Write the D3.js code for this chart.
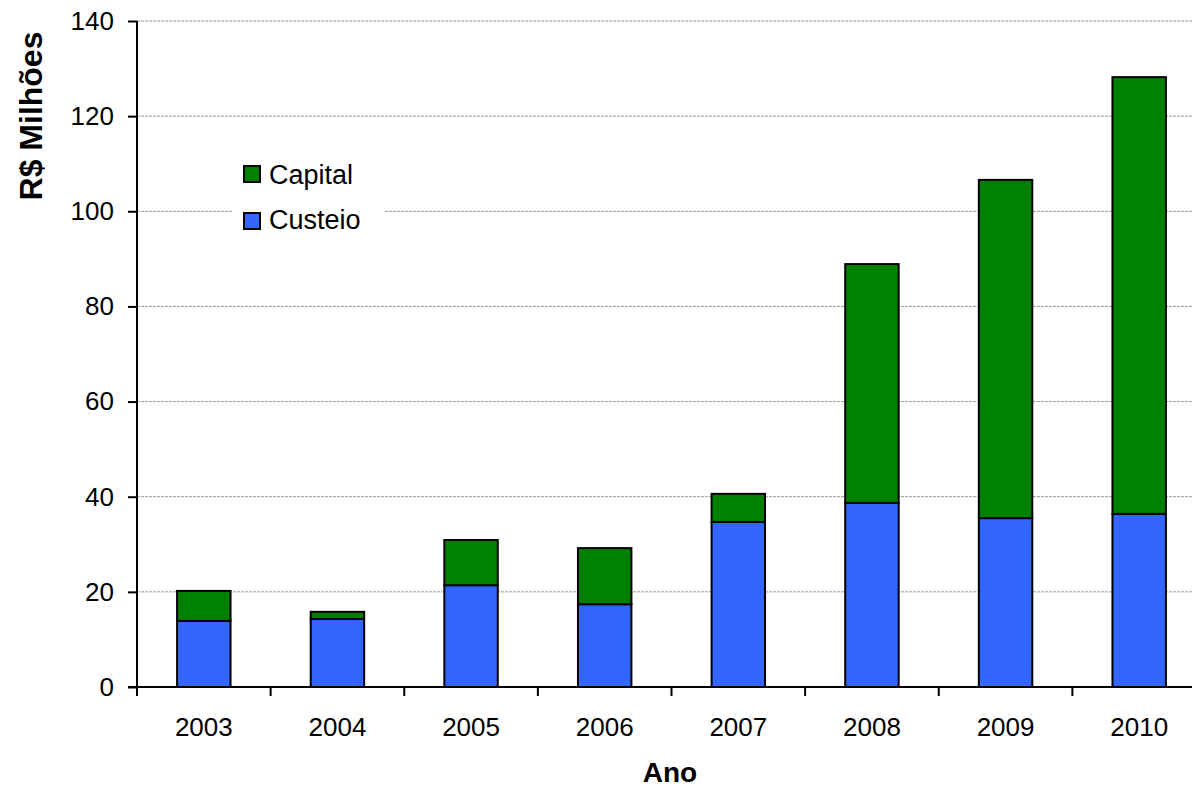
<!DOCTYPE html>
<html><head><meta charset="utf-8">
<script src="https://cdn.jsdelivr.net/npm/d3@7"></script>
<style>body{margin:0;background:#fff}svg{display:block}</style>
</head><body>
<svg id="c" width="1192" height="788"></svg>
<script>
const years = ["2003","2004","2005","2006","2007","2008","2009","2010"];
const custeio = [13.9, 14.3, 21.4, 17.4, 34.7, 38.7, 35.5, 36.4];
const capital = [6.3, 1.5, 9.5, 11.8, 5.9, 50.2, 71.1, 91.8];
const yTicks = [0, 20, 40, 60, 80, 100, 120, 140];
const seriesNames = ["Capital", "Custeio"];
const seriesColors = {"Capital": "#008000", "Custeio": "#3366FF"};

const svg = d3.select("#c");
const x = d3.scaleBand().domain(years).range([137, 1206]).paddingInner(0.6).paddingOuter(0.3);
const y = d3.scaleLinear().domain([0, 140]).range([687, 21]);
const font = "'Liberation Sans', Arial, sans-serif";

// gridlines
svg.append("g").selectAll("line").data(yTicks.filter(d => d > 0)).join("line")
  .attr("x1", 137).attr("x2", 1192).attr("y1", d => y(d)).attr("y2", d => y(d))
  .attr("stroke", "#999").attr("stroke-width", 1).attr("stroke-dasharray", "3,1");

// stacked bars
const data = years.map((yr, i) => ({year: yr, Custeio: custeio[i], Capital: capital[i]}));
const stack = d3.stack().keys(["Custeio", "Capital"])(data);
svg.append("g").selectAll("g").data(stack).join("g")
  .attr("fill", s => seriesColors[s.key])
  .selectAll("rect").data(s => s).join("rect")
  .attr("x", d => x(d.data.year)).attr("width", x.bandwidth())
  .attr("y", d => y(d[1])).attr("height", d => y(d[0]) - y(d[1]))
  .attr("stroke", "#000").attr("stroke-width", 2);

// y axis
const ya = svg.append("g").attr("transform", "translate(137,0)")
  .call(d3.axisLeft(y).tickValues(yTicks).tickSize(9).tickPadding(14));
ya.selectAll("text").attr("font-family", font).attr("font-size", 26).attr("fill", "#000");
ya.select(".domain").attr("stroke", "#000").attr("stroke-width", 2).attr("d", "M0,21V687");
ya.selectAll(".tick line").attr("stroke", "#000").attr("stroke-width", 2);

// x axis
const xa = svg.append("g").attr("transform", "translate(0,687)");
xa.append("line").attr("x1", 128).attr("x2", 1192).attr("stroke", "#000").attr("stroke-width", 2);
const bounds = d3.range(0, years.length + 1).map(i => 137 + i * x.step());
xa.selectAll(".tk").data(bounds).join("line").attr("class", "tk")
  .attr("x1", d => d).attr("x2", d => d).attr("y1", 0).attr("y2", 9)
  .attr("stroke", "#000").attr("stroke-width", 2);
xa.selectAll("text").data(years).join("text")
  .attr("x", d => x(d) + x.bandwidth() / 2).attr("y", 49)
  .attr("text-anchor", "middle").attr("font-family", font).attr("font-size", 26).text(d => d);

// axis titles
svg.append("text").attr("x", 670).attr("y", 782).attr("text-anchor", "middle")
  .attr("font-family", font).attr("font-size", 28).attr("font-weight", "bold").text("Ano");
svg.append("text").attr("transform", "translate(42,116) rotate(-90)").attr("text-anchor", "middle")
  .attr("font-family", font).attr("font-size", 32).attr("font-weight", "bold").text("R$ Milhões");

// legend
const lg = svg.append("g");
lg.append("rect").attr("x", 233).attr("y", 150).attr("width", 152).attr("height", 88).attr("fill", "#fff");
seriesNames.forEach((n, i) => {
  lg.append("rect").attr("x", 244).attr("y", 166 + i * 47).attr("width", 16).attr("height", 16)
    .attr("fill", seriesColors[n]).attr("stroke", "#000").attr("stroke-width", 2);
  lg.append("text").attr("x", 269).attr("y", 184 + i * 45).attr("font-family", font)
    .attr("font-size", 27).text(n);
});
</script>
</body></html>
